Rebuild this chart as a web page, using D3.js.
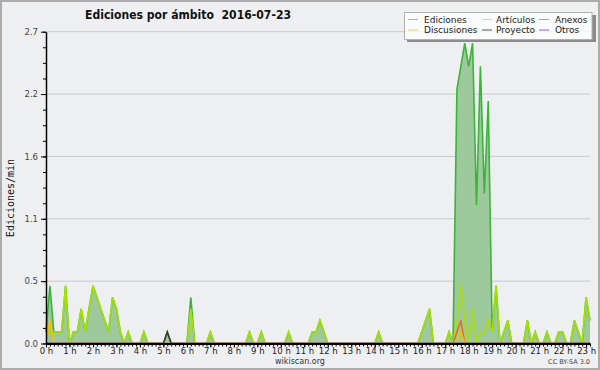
<!DOCTYPE html>
<html>
<head>
<meta charset="utf-8">
<script src="https://cdn.jsdelivr.net/npm/d3@7"></script>
<style>
  body { margin: 0; background: #ffffff; }
  svg { display: block; }
</style>
</head>
<body>
<svg id="chart" width="600" height="370"></svg>
<script>
// values every 10 minutes, 00:00 -> 23:10 (edits per minute)
const ediciones = [
  0.1, 0.5, 0.1, 0.1, 0.1, 0.5, 0, 0.1, 0.1, 0.3,
  0.1, 0.3, 0.5, 0.4, 0.3, 0.2, 0.1, 0.4, 0.3, 0.1,
  0, 0.1, 0, 0, 0, 0.1, 0, 0, 0, 0,
  0, 0.1, 0, 0, 0, 0, 0, 0.4, 0, 0,
  0, 0, 0.1, 0, 0, 0, 0, 0, 0, 0,
  0, 0, 0.1, 0, 0, 0.1, 0, 0, 0, 0,
  0, 0, 0.1, 0, 0, 0, 0, 0, 0.1, 0.1,
  0.2, 0.1, 0, 0, 0, 0, 0, 0, 0, 0,
  0, 0, 0, 0, 0, 0.1, 0, 0, 0, 0,
  0, 0, 0, 0, 0, 0, 0.1, 0.2, 0.3, 0,
  0, 0, 0, 0.1, 0, 2.2, 2.4, 2.6, 2.4, 2.6,
  1.2, 2.4, 1.3, 2.1, 0.1, 0.5, 0, 0.1, 0.2, 0,
  0, 0, 0, 0.2, 0, 0.1, 0, 0, 0.1, 0,
  0, 0.1, 0.1, 0, 0, 0.2, 0.1, 0, 0.4, 0.2
];
const articulos = [
  0.1, 0.1, 0.1, 0.1, 0.1, 0.5, 0, 0.1, 0.1, 0.3,
  0.1, 0.3, 0.5, 0.4, 0.3, 0.2, 0.1, 0.4, 0.3, 0.1,
  0, 0.1, 0, 0, 0, 0.1, 0, 0, 0, 0,
  0, 0, 0, 0, 0, 0, 0, 0.3, 0, 0,
  0, 0, 0.1, 0, 0, 0, 0, 0, 0, 0,
  0, 0, 0.1, 0, 0, 0.1, 0, 0, 0, 0,
  0, 0, 0.1, 0, 0, 0, 0, 0, 0.1, 0.1,
  0.2, 0.1, 0, 0, 0, 0, 0, 0, 0, 0,
  0, 0, 0, 0, 0, 0.1, 0, 0, 0, 0,
  0, 0, 0, 0, 0, 0, 0.1, 0.2, 0.3, 0,
  0, 0, 0, 0.1, 0, 0.2, 0.5, 0.2, 0, 0.3,
  0, 0.1, 0.1, 0.2, 0.1, 0.5, 0, 0.1, 0.2, 0,
  0, 0, 0, 0.2, 0, 0.1, 0, 0, 0.1, 0,
  0, 0.1, 0.1, 0, 0, 0.2, 0.1, 0, 0.4, 0.2
];
// sparse series: only non-zero slots (index of 10-minute slot -> value)
const anexos = [[105, 0.1], [106, 0.2]];
const discusiones = [[1, 0.2], [106, 0.1]];
const proyecto = [[31, 0.1]];
const otros = [];

const hourLabels = ["0 h", "1 h", "2 h", "3 h", "4 h", "5 h", "6 h", "7 h", "8 h", "9 h", "10 h", "11 h",
  "12 h", "13 h", "14 h", "15 h", "16 h", "17 h", "18 h", "19 h", "20 h", "21 h", "22 h", "23 h"];
const yTicks = [0, 0.54, 1.08, 1.62, 2.16, 2.7];
const yTickLabels = ["0.0", "0.5", "1.1", "1.6", "2.2", "2.7"];

const legendLabels = ["Ediciones", "Artículos", "Anexos", "Discusiones", "Proyecto", "Otros"];
const legendColors = ["#86cc86", "#c6ec4c", "#ef8a55", "#f4cd55", "#555555", "#9a5ae8"];

function expand(sparse) {
  const out = ediciones.map(() => 0);
  sparse.forEach(function(p) { out[p[0]] = p[1]; });
  return out;
}

const svg = d3.select("#chart");
const bg = "#eeeff1";
svg.append("rect").attr("width", 600).attr("height", 370).attr("fill", bg);
svg.append("rect").attr("x", 1).attr("y", 1).attr("width", 598).attr("height", 368)
  .attr("fill", "none").attr("stroke", "#ababab").attr("stroke-width", 2);

const x = d3.scaleLinear().domain([0, 1390]).range([46, 590]);
const y = d3.scaleLinear().domain([0, 2.7]).range([343.5, 31.7]);
const minutes = ediciones.map(function(_, i) { return i * 10; });

// grid
svg.append("g").selectAll("line").data(yTicks.slice(1)).join("line")
  .attr("x1", 46).attr("x2", 590)
  .attr("y1", function(d) { return y(d); }).attr("y2", function(d) { return y(d); })
  .attr("stroke", "#cacaca").attr("stroke-width", 1);

// series
const area = d3.area().x(function(d, i) { return x(minutes[i]); }).y0(y(0)).y1(function(d) { return y(d); });
const line = d3.line().x(function(d, i) { return x(minutes[i]); }).y(function(d) { return y(d); });

svg.append("path").datum(ediciones).attr("d", area).attr("fill", "#9dc99d");

const series = [
  { values: ediciones, color: "#3cb43c" },
  { values: articulos, color: "#a8e000" },
  { values: expand(anexos), color: "#ea6a25" },
  { values: expand(discusiones), color: "#f2c200" },
  { values: expand(proyecto), color: "#3a3a3a" },
  { values: expand(otros), color: "#8a3ae0" }
];
series.forEach(function(s) {
  svg.append("path").datum(s.values).attr("d", line)
    .attr("fill", "none").attr("stroke", s.color).attr("stroke-width", 1.6)
    .attr("stroke-linejoin", "miter");
});

// axes
const font = "'DejaVu Sans', sans-serif";
const xMinor = svg.append("g").attr("transform", "translate(0," + y(0) + ")")
  .call(d3.axisBottom(x).tickValues(minutes).tickSize(3).tickSizeOuter(0).tickFormat(""));
xMinor.select(".domain").remove();
const xAxis = svg.append("g").attr("transform", "translate(0," + y(0) + ")")
  .call(d3.axisBottom(x).tickValues(hourLabels.map(function(_, h) { return h * 60; }))
    .tickSize(4).tickSizeOuter(0).tickFormat(function(d, i) { return hourLabels[i]; }));
xAxis.select(".domain").attr("stroke-width", 2);
xAxis.selectAll("text").attr("dy", 0).attr("y", 10).style("font-family", font)
  .style("font-size", "8.5px").attr("fill", "#222");

const yMinor = svg.append("g").attr("transform", "translate(46,0)")
  .call(d3.axisLeft(y).tickValues(d3.range(0, 21).map(function(k) { return k * 0.135; }))
    .tickSize(3).tickSizeOuter(0).tickFormat(""));
yMinor.select(".domain").remove();
const yAxis = svg.append("g").attr("transform", "translate(46,0)")
  .call(d3.axisLeft(y).tickValues(yTicks).tickSize(5).tickSizeOuter(0)
    .tickFormat(function(d, i) { return yTickLabels[i]; }));
yAxis.select(".domain").attr("stroke-width", 1.5);
yAxis.selectAll("text").style("font-family", font).style("font-size", "8.5px").attr("fill", "#444");

// titles
svg.append("text").attr("x", 85).attr("y", 18.5)
  .attr("textLength", 206).attr("lengthAdjust", "spacingAndGlyphs")
  .style("font-family", font).style("font-weight", "bold").style("font-size", "13px")
  .attr("fill", "#111").text("Ediciones por ámbito\u00a0\u00a02016-07-23");

svg.append("text").attr("transform", "translate(14,198) rotate(-90)")
  .attr("text-anchor", "middle")
  .style("font-family", "'DejaVu Sans Mono', monospace").style("font-size", "10px")
  .attr("fill", "#111").text("Ediciones/min");

svg.append("text").attr("x", 300).attr("y", 364).attr("text-anchor", "middle")
  .style("font-family", font).style("font-size", "8px").attr("fill", "#333").text("wikiscan.org");
svg.append("text").attr("x", 590).attr("y", 364).attr("text-anchor", "end")
  .style("font-family", font).style("font-size", "6.5px").attr("fill", "#444").text("CC BY-SA 3.0");

// legend
const lg = svg.append("g");
lg.append("rect").attr("x", 407).attr("y", 39).attr("width", 189).attr("height", 3).attr("fill", "#8c8c8c");
lg.append("rect").attr("x", 592).attr("y", 15).attr("width", 4).attr("height", 27).attr("fill", "#8c8c8c");
lg.append("rect").attr("x", 404.5).attr("y", 12.5).attr("width", 187.5).attr("height", 27)
  .attr("fill", "#ffffff").attr("fill-opacity", 0.72).attr("stroke", "#b0b0b0");
const colX = [408, 482, 539];
const textX = [424, 496, 555];
const rowY = [19.5, 30];
legendLabels.forEach(function(label, i) {
  const c = i % 3, r = Math.floor(i / 3);
  lg.append("line").attr("x1", colX[c]).attr("x2", colX[c] + 10)
    .attr("y1", rowY[r]).attr("y2", rowY[r])
    .attr("stroke", legendColors[i]).attr("stroke-width", 1);
  lg.append("text").attr("x", textX[c]).attr("y", rowY[r] + 3.2)
    .style("font-family", font).style("font-size", "9px").attr("fill", "#222").text(label);
});
</script>
</body>
</html>
